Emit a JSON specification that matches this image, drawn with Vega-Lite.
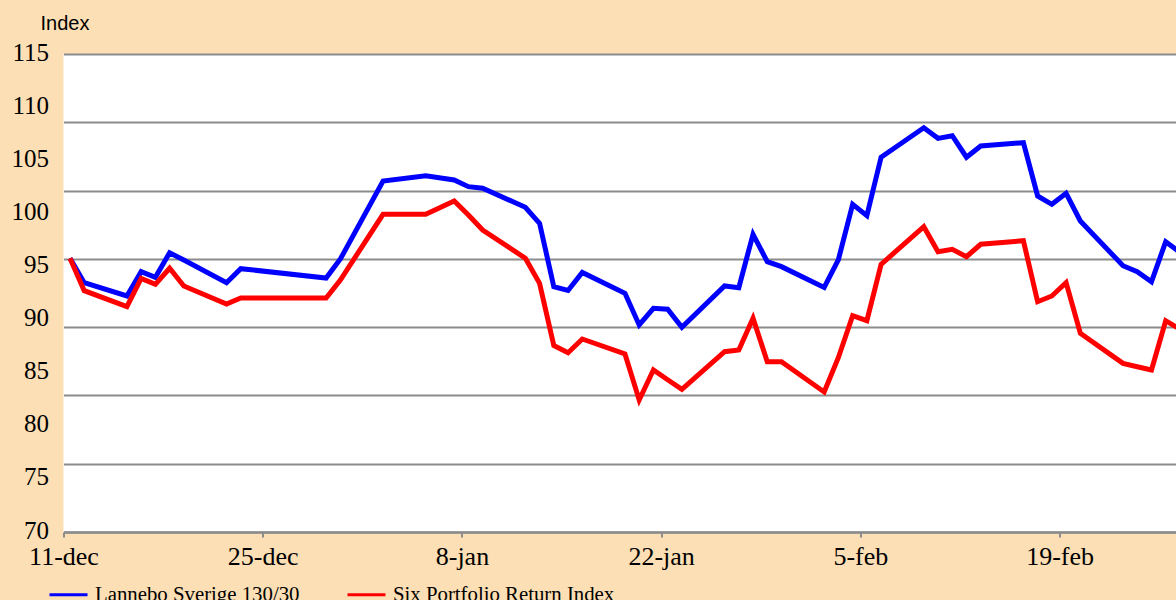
{
  "$schema": "https://vega.github.io/schema/vega-lite/v6.json",
  "width": 1112.5,
  "height": 478,
  "autosize": "none",
  "padding": {"left": 63.5, "top": 54, "right": 0, "bottom": 68},
  "background": "#FCDFB4",
  "config": {"view": {"stroke": null, "fill": "#FFFFFF"}},
  "data": {"values": [
    {"date": "2008-12-11", "series": "Lannebo Sverige 130/30", "value": 95.77},
    {"date": "2008-12-12", "series": "Lannebo Sverige 130/30", "value": 93.47},
    {"date": "2008-12-15", "series": "Lannebo Sverige 130/30", "value": 92.22},
    {"date": "2008-12-16", "series": "Lannebo Sverige 130/30", "value": 94.51},
    {"date": "2008-12-17", "series": "Lannebo Sverige 130/30", "value": 93.98},
    {"date": "2008-12-18", "series": "Lannebo Sverige 130/30", "value": 96.29},
    {"date": "2008-12-19", "series": "Lannebo Sverige 130/30", "value": 95.60},
    {"date": "2008-12-22", "series": "Lannebo Sverige 130/30", "value": 93.47},
    {"date": "2008-12-23", "series": "Lannebo Sverige 130/30", "value": 94.79},
    {"date": "2008-12-29", "series": "Lannebo Sverige 130/30", "value": 93.91},
    {"date": "2008-12-30", "series": "Lannebo Sverige 130/30", "value": 95.70},
    {"date": "2009-01-02", "series": "Lannebo Sverige 130/30", "value": 103.04},
    {"date": "2009-01-05", "series": "Lannebo Sverige 130/30", "value": 103.54},
    {"date": "2009-01-07", "series": "Lannebo Sverige 130/30", "value": 103.14},
    {"date": "2009-01-08", "series": "Lannebo Sverige 130/30", "value": 102.51},
    {"date": "2009-01-09", "series": "Lannebo Sverige 130/30", "value": 102.36},
    {"date": "2009-01-12", "series": "Lannebo Sverige 130/30", "value": 100.57},
    {"date": "2009-01-13", "series": "Lannebo Sverige 130/30", "value": 99.06},
    {"date": "2009-01-14", "series": "Lannebo Sverige 130/30", "value": 93.09},
    {"date": "2009-01-15", "series": "Lannebo Sverige 130/30", "value": 92.74},
    {"date": "2009-01-16", "series": "Lannebo Sverige 130/30", "value": 94.43},
    {"date": "2009-01-19", "series": "Lannebo Sverige 130/30", "value": 92.47},
    {"date": "2009-01-20", "series": "Lannebo Sverige 130/30", "value": 89.49},
    {"date": "2009-01-21", "series": "Lannebo Sverige 130/30", "value": 91.06},
    {"date": "2009-01-22", "series": "Lannebo Sverige 130/30", "value": 90.97},
    {"date": "2009-01-23", "series": "Lannebo Sverige 130/30", "value": 89.27},
    {"date": "2009-01-26", "series": "Lannebo Sverige 130/30", "value": 93.16},
    {"date": "2009-01-27", "series": "Lannebo Sverige 130/30", "value": 93.00},
    {"date": "2009-01-28", "series": "Lannebo Sverige 130/30", "value": 98.03},
    {"date": "2009-01-29", "series": "Lannebo Sverige 130/30", "value": 95.45},
    {"date": "2009-01-30", "series": "Lannebo Sverige 130/30", "value": 94.98},
    {"date": "2009-02-02", "series": "Lannebo Sverige 130/30", "value": 93.02},
    {"date": "2009-02-03", "series": "Lannebo Sverige 130/30", "value": 95.65},
    {"date": "2009-02-04", "series": "Lannebo Sverige 130/30", "value": 100.85},
    {"date": "2009-02-05", "series": "Lannebo Sverige 130/30", "value": 99.78},
    {"date": "2009-02-06", "series": "Lannebo Sverige 130/30", "value": 105.28},
    {"date": "2009-02-09", "series": "Lannebo Sverige 130/30", "value": 108.06},
    {"date": "2009-02-10", "series": "Lannebo Sverige 130/30", "value": 107.06},
    {"date": "2009-02-11", "series": "Lannebo Sverige 130/30", "value": 107.31},
    {"date": "2009-02-12", "series": "Lannebo Sverige 130/30", "value": 105.28},
    {"date": "2009-02-13", "series": "Lannebo Sverige 130/30", "value": 106.34},
    {"date": "2009-02-16", "series": "Lannebo Sverige 130/30", "value": 106.65},
    {"date": "2009-02-17", "series": "Lannebo Sverige 130/30", "value": 101.63},
    {"date": "2009-02-18", "series": "Lannebo Sverige 130/30", "value": 100.85},
    {"date": "2009-02-19", "series": "Lannebo Sverige 130/30", "value": 101.89},
    {"date": "2009-02-20", "series": "Lannebo Sverige 130/30", "value": 99.28},
    {"date": "2009-02-23", "series": "Lannebo Sverige 130/30", "value": 95.07},
    {"date": "2009-02-24", "series": "Lannebo Sverige 130/30", "value": 94.51},
    {"date": "2009-02-25", "series": "Lannebo Sverige 130/30", "value": 93.56},
    {"date": "2009-02-26", "series": "Lannebo Sverige 130/30", "value": 97.33},
    {"date": "2009-02-27", "series": "Lannebo Sverige 130/30", "value": 96.33},
    {"date": "2008-12-11", "series": "Six Portfolio Return Index", "value": 95.77},
    {"date": "2008-12-12", "series": "Six Portfolio Return Index", "value": 92.72},
    {"date": "2008-12-15", "series": "Six Portfolio Return Index", "value": 91.21},
    {"date": "2008-12-16", "series": "Six Portfolio Return Index", "value": 93.88},
    {"date": "2008-12-17", "series": "Six Portfolio Return Index", "value": 93.32},
    {"date": "2008-12-18", "series": "Six Portfolio Return Index", "value": 94.83},
    {"date": "2008-12-19", "series": "Six Portfolio Return Index", "value": 93.16},
    {"date": "2008-12-22", "series": "Six Portfolio Return Index", "value": 91.46},
    {"date": "2008-12-23", "series": "Six Portfolio Return Index", "value": 92.03},
    {"date": "2008-12-29", "series": "Six Portfolio Return Index", "value": 92.03},
    {"date": "2008-12-30", "series": "Six Portfolio Return Index", "value": 93.72},
    {"date": "2009-01-02", "series": "Six Portfolio Return Index", "value": 99.91},
    {"date": "2009-01-05", "series": "Six Portfolio Return Index", "value": 99.91},
    {"date": "2009-01-07", "series": "Six Portfolio Return Index", "value": 101.16},
    {"date": "2009-01-08", "series": "Six Portfolio Return Index", "value": 99.84},
    {"date": "2009-01-09", "series": "Six Portfolio Return Index", "value": 98.43},
    {"date": "2009-01-12", "series": "Six Portfolio Return Index", "value": 95.77},
    {"date": "2009-01-13", "series": "Six Portfolio Return Index", "value": 93.41},
    {"date": "2009-01-14", "series": "Six Portfolio Return Index", "value": 87.56},
    {"date": "2009-01-15", "series": "Six Portfolio Return Index", "value": 86.88},
    {"date": "2009-01-16", "series": "Six Portfolio Return Index", "value": 88.17},
    {"date": "2009-01-19", "series": "Six Portfolio Return Index", "value": 86.76},
    {"date": "2009-01-20", "series": "Six Portfolio Return Index", "value": 82.43},
    {"date": "2009-01-21", "series": "Six Portfolio Return Index", "value": 85.25},
    {"date": "2009-01-22", "series": "Six Portfolio Return Index", "value": 84.33},
    {"date": "2009-01-23", "series": "Six Portfolio Return Index", "value": 83.43},
    {"date": "2009-01-26", "series": "Six Portfolio Return Index", "value": 86.97},
    {"date": "2009-01-27", "series": "Six Portfolio Return Index", "value": 87.13},
    {"date": "2009-01-28", "series": "Six Portfolio Return Index", "value": 90.12},
    {"date": "2009-01-29", "series": "Six Portfolio Return Index", "value": 86.03},
    {"date": "2009-01-30", "series": "Six Portfolio Return Index", "value": 86.03},
    {"date": "2009-02-02", "series": "Six Portfolio Return Index", "value": 83.18},
    {"date": "2009-02-03", "series": "Six Portfolio Return Index", "value": 86.43},
    {"date": "2009-02-04", "series": "Six Portfolio Return Index", "value": 90.36},
    {"date": "2009-02-05", "series": "Six Portfolio Return Index", "value": 89.89},
    {"date": "2009-02-06", "series": "Six Portfolio Return Index", "value": 95.20},
    {"date": "2009-02-09", "series": "Six Portfolio Return Index", "value": 98.74},
    {"date": "2009-02-10", "series": "Six Portfolio Return Index", "value": 96.39},
    {"date": "2009-02-11", "series": "Six Portfolio Return Index", "value": 96.61},
    {"date": "2009-02-12", "series": "Six Portfolio Return Index", "value": 95.92},
    {"date": "2009-02-13", "series": "Six Portfolio Return Index", "value": 97.09},
    {"date": "2009-02-16", "series": "Six Portfolio Return Index", "value": 97.42},
    {"date": "2009-02-17", "series": "Six Portfolio Return Index", "value": 91.68},
    {"date": "2009-02-18", "series": "Six Portfolio Return Index", "value": 92.22},
    {"date": "2009-02-19", "series": "Six Portfolio Return Index", "value": 93.47},
    {"date": "2009-02-20", "series": "Six Portfolio Return Index", "value": 88.71},
    {"date": "2009-02-23", "series": "Six Portfolio Return Index", "value": 85.88},
    {"date": "2009-02-24", "series": "Six Portfolio Return Index", "value": 85.56},
    {"date": "2009-02-25", "series": "Six Portfolio Return Index", "value": 85.25},
    {"date": "2009-02-26", "series": "Six Portfolio Return Index", "value": 89.89},
    {"date": "2009-02-27", "series": "Six Portfolio Return Index", "value": 89.08}
  ]},
  "encoding": {
    "x": {
      "field": "date",
      "type": "temporal",
      "scale": {
        "type": "utc",
        "domain": [
          {"year": 2008, "month": 12, "date": 11, "utc": true},
          {"year": 2009, "month": 2, "date": 27, "hours": 4, "minutes": 20, "utc": true}
        ]
      },
      "axis": {
        "title": null,
        "grid": false,
        "values": [
          {"year": 2008, "month": 12, "date": 11, "utc": true},
          {"year": 2008, "month": 12, "date": 25, "utc": true},
          {"year": 2009, "month": 1, "date": 8, "utc": true},
          {"year": 2009, "month": 1, "date": 22, "utc": true},
          {"year": 2009, "month": 2, "date": 5, "utc": true},
          {"year": 2009, "month": 2, "date": 19, "utc": true}
        ],
        "labelExpr": "utcFormat(datum.value, '%-d') + '-' + lower(utcFormat(datum.value, '%b'))",
        "labelFont": "Liberation Serif",
        "labelFontSize": 26,
        "labelColor": "#000000",
        "labelPadding": 6,
        "labelFlush": false,
        "labelOverlap": false,
        "tickSize": 5,
        "tickWidth": 2,
        "tickColor": "#8C8C8C",
        "domainColor": "#8C8C8C",
        "domainWidth": 2.5
      }
    },
    "color": {
      "field": "series",
      "type": "nominal",
      "scale": {
        "domain": ["Lannebo Sverige 130/30", "Six Portfolio Return Index"],
        "range": ["#0000FF", "#FF0000"]
      },
      "legend": {
        "title": null,
        "orient": "none",
        "direction": "horizontal",
        "legendX": -15.5,
        "legendY": 520,
        "symbolType": "stroke",
        "symbolSize": 1444,
        "symbolStrokeWidth": 3,
        "labelFont": "Liberation Serif",
        "labelFontSize": 20.8,
        "labelColor": "#000000",
        "labelOffset": 6,
        "labelLimit": 400,
        "columnPadding": 41
      }
    }
  },
  "layer": [
    {
      "transform": [{"filter": "datum.series === 'Lannebo Sverige 130/30'"}],
      "mark": {"type": "line", "strokeWidth": 5, "xOffset": 6.5, "clip": true},
      "encoding": {
        "y": {
          "field": "value",
          "type": "quantitative",
          "scale": {"domain": [70, 115], "nice": false, "zero": false},
          "axis": {
            "orient": "left",
            "values": [70, 75, 80, 85, 90, 95, 100, 105, 110, 115],
            "grid": false,
            "domain": false,
            "ticks": false,
            "tickSize": 0,
            "labelFont": "Liberation Serif",
            "labelFontSize": 25,
            "labelColor": "#000000",
            "labelPadding": 15,
            "labelOffset": -2,
            "labelFlush": false,
            "labelOverlap": false,
            "title": "Index",
            "titleFont": "Liberation Sans",
            "titleFontSize": 20,
            "titleFontWeight": "normal",
            "titleColor": "#000000",
            "titleAngle": 0,
            "titleAlign": "left",
            "titleBaseline": "alphabetic",
            "titleX": -23.5,
            "titleY": -24.7
          }
        }
      }
    },
    {
      "transform": [{"filter": "datum.series === 'Six Portfolio Return Index'"}],
      "mark": {"type": "line", "strokeWidth": 5, "xOffset": 6.5, "clip": true},
      "encoding": {
        "y": {
          "field": "value",
          "type": "quantitative",
          "scale": {"domain": [70, 115], "nice": false, "zero": false},
          "axis": {
            "orient": "left",
            "values": [70, 76.428571, 82.857143, 89.285714, 95.714286, 102.142857, 108.571429, 115],
            "grid": true,
            "gridColor": "#8C8C8C",
            "gridWidth": 2,
            "gridOpacity": 1,
            "domain": false,
            "ticks": false,
            "labels": false,
            "title": null
          }
        }
      }
    }
  ],
  "resolve": {"axis": {"y": "independent"}}
}
